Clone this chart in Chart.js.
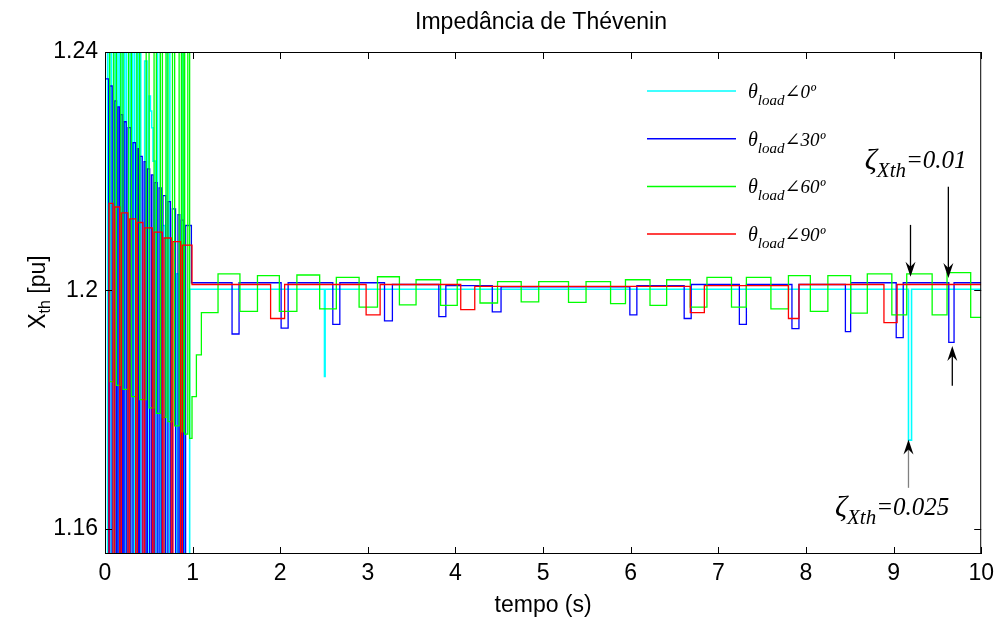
<!DOCTYPE html>
<html>
<head>
<meta charset="utf-8">
<script src="https://cdn.jsdelivr.net/npm/chart.js@4.4.1/dist/chart.umd.min.js"></script>
<style>html,body{margin:0;padding:0;background:#fff}</style>
</head>
<body>
<canvas id="grafico" width="1000" height="621"></canvas>
<script>
// eixos
const tempoTicks = [0, 1, 2, 3, 4, 5, 6, 7, 8, 9, 10];
const xthTicks = [1.16, 1.2, 1.24];
const legendas = ['0º', '30º', '60º', '90º'];

// theta_load 0º (ciano)
const t0 = [0, 0.030, 0.052, 0.075, 0.100, 0.124, 0.148, 0.170, 0.195, 0.220, 0.242, 0.267, 0.290, 0.315, 0.338, 0.362,
    0.385, 0.408, 0.453, 0.480, 0.503, 0.518, 0.533, 0.548, 0.575, 0.600, 0.630, 0.653, 0.685, 0.710, 0.740, 0.815,
    0.840, 0.880, 0.905, 0.966, 2.505, 2.512, 9.170, 9.205, 10];
const x0 = [1.25, 1.15, 1.25, 1.15, 1.25, 1.15, 1.25, 1.15, 1.25, 1.15, 1.25, 1.15, 1.25, 1.15, 1.25, 1.15,
    1.25, 1.15, 1.2385, 1.15, 1.2326, 1.2301, 1.2273, 1.2217, 1.15, 1.25, 1.15, 1.2109, 1.15, 1.25, 1.15, 1.2028,
    1.15, 1.25, 1.15, 1.2002, 1.1856, 1.2002, 1.1749, 1.2002, 1.2002];

// theta_load 30º (azul)
const t30 = [0, 0.042, 0.054, 0.082, 0.111, 0.132, 0.149, 0.167, 0.180, 0.202, 0.218, 0.242, 0.263, 0.295, 0.320, 0.350,
    0.370, 0.384, 0.396, 0.425, 0.446, 0.467, 0.484, 0.510, 0.530, 0.550, 0.567, 0.595, 0.617, 0.642, 0.662, 0.692,
    0.719, 0.747, 0.769, 0.805, 0.833, 0.854, 0.872, 0.898, 0.920, 0.986,
    1.45, 1.53, 2.01, 2.09, 2.60, 2.68, 3.19, 3.28, 3.81, 3.89, 4.42, 4.52, 5.99, 6.07, 6.61, 6.69,
    7.24, 7.32, 7.84, 7.92, 8.45, 8.51, 9.03, 9.11, 9.63, 9.69, 10];
const x30 = [1.2355, 1.15, 1.2343, 1.15, 1.2318, 1.15, 1.2308, 1.15, 1.2295, 1.15, 1.2283, 1.15, 1.2273, 1.15, 1.2248, 1.15,
    1.2238, 1.15, 1.2225, 1.15, 1.2216, 1.15, 1.2204, 1.15, 1.2194, 1.15, 1.2181, 1.15, 1.2172, 1.15, 1.2159, 1.15,
    1.2149, 1.15, 1.2137, 1.15, 1.2127, 1.15, 1.2118, 1.15, 1.2109, 1.2013,
    1.1927, 1.2013, 1.1937, 1.2013, 1.1943, 1.2013, 1.1949, 1.2010, 1.1956, 1.2008, 1.1964, 1.2006, 1.1959, 1.2008, 1.1953, 1.2010,
    1.1943, 1.2010, 1.1936, 1.2010, 1.1931, 1.2013, 1.1921, 1.2013, 1.1913, 1.2013, 1.2013];

// theta_load 60º (verde)
const t60 = [0, 0.054, 0.100, 0.130, 0.180, 0.206, 0.270, 0.301, 0.365, 0.396, 0.470, 0.503, 0.560, 0.586, 0.632, 0.655,
    0.696, 0.719, 0.770, 0.795, 0.846, 0.872, 0.892, 0.909, 0.945, 0.966, 0.993, 1.043, 1.10, 1.29,
    1.54, 1.74, 1.99, 2.19, 2.45, 2.64, 2.90, 3.11, 3.36, 3.55, 3.83, 4.02, 4.28, 4.48, 4.75, 4.95,
    5.29, 5.49, 5.77, 5.94, 6.22, 6.41, 6.68, 6.87, 7.15, 7.32, 7.60, 7.80, 8.05, 8.25, 8.51, 8.70,
    8.98, 9.15, 9.44, 9.61, 9.88, 10];
const x60 = [1.25, 1.1847, 1.25, 1.1841, 1.25, 1.1834, 1.25, 1.1822, 1.25, 1.1817, 1.25, 1.1803, 1.25, 1.1794, 1.25, 1.1787,
    1.25, 1.1780, 1.25, 1.1773, 1.25, 1.1763, 1.25, 1.1759, 1.25, 1.1752, 1.1822, 1.1892, 1.1963, 1.2028,
    1.1965, 1.2025, 1.1965, 1.2026, 1.1969, 1.2022, 1.1972, 1.2023, 1.1976, 1.2018, 1.1975, 1.2018, 1.1979, 1.2015, 1.1981, 1.2015,
    1.1980, 1.2015, 1.1978, 1.2018, 1.1975, 1.2018, 1.1972, 1.2022, 1.1972, 1.2022, 1.1969, 1.2025, 1.1965, 1.2025, 1.1962, 1.2028,
    1.1959, 1.2028, 1.1959, 1.2030, 1.1955, 1.1955];

// theta_load 90º (vermelho)
const t90 = [0, 0.046, 0.092, 0.111, 0.168, 0.187, 0.262, 0.282, 0.350, 0.370, 0.433, 0.453, 0.540, 0.560, 0.654, 0.674,
    0.756, 0.776, 0.863, 0.883, 0.993, 1.89, 2.05, 2.98, 3.14, 4.06, 4.22, 6.68, 6.84, 7.80, 7.92, 8.89, 9.04, 10];
const x90 = [1.15, 1.2146, 1.15, 1.2140, 1.15, 1.2130, 1.15, 1.2120, 1.15, 1.2114, 1.15, 1.2105, 1.15, 1.2098, 1.15, 1.2088,
    1.15, 1.2082, 1.15, 1.2076, 1.2010, 1.1953, 1.2010, 1.1959, 1.2010, 1.1968, 1.2007, 1.1963, 1.2008, 1.1953, 1.2010, 1.1946, 1.2010, 1.2010];

const cores = ['#00ffff', '#0000ff', '#00ff00', '#ff0000'];

// anotações (em unidades dos eixos)
const setas = [
    { t: 9.193, de: 1.2110, ate: 1.2023, cor: '#000' },
    { t: 9.625, de: 1.2174, ate: 1.2021, cor: '#000' },
    { t: 9.670, de: 1.1840, ate: 1.1907, cor: '#000' },
    { t: 9.170, de: 1.1669, ate: 1.1750, cor: '#808080' }
];
const notas = [
    { t: 8.67, v: 1.2203, valor: '=0.01' },
    { t: 8.33, v: 1.1622, valor: '=0.025' }
];

function serie(ts, vs) {
    return ts.map((t, i) => ({ x: t, y: vs[i] }));
}

const sans = '"Liberation Sans", Arial, sans-serif';
const serif = '"Liberation Serif", "DejaVu Serif", serif';

function seta(ctx, x, y0, y1, cor) {
    const d = y1 > y0 ? 1 : -1;
    ctx.strokeStyle = cor;
    ctx.lineWidth = 1.3;
    ctx.beginPath();
    ctx.moveTo(x, y0);
    ctx.lineTo(x, y1 - d * 8);
    ctx.stroke();
    ctx.fillStyle = '#000';
    ctx.beginPath();
    ctx.moveTo(x, y1);
    ctx.lineTo(x - 5, y1 - d * 15);
    ctx.lineTo(x, y1 - d * 10);
    ctx.lineTo(x + 5, y1 - d * 15);
    ctx.closePath();
    ctx.fill();
}

const moldura = {
    id: 'moldura',
    afterDraw(chart) {
        const { ctx, chartArea: a, scales: { x, y } } = chart;
        ctx.save();

        // caixa e marcas internas
        ctx.strokeStyle = '#000';
        ctx.lineWidth = 1;
        ctx.strokeRect(a.left + 0.5, a.top + 0.5, a.right - a.left - 1, a.bottom - a.top - 1);
        ctx.beginPath();
        tempoTicks.forEach(t => {
            const px = Math.round(x.getPixelForValue(t)) + 0.5;
            ctx.moveTo(px, a.bottom); ctx.lineTo(px, a.bottom - 7);
            ctx.moveTo(px, a.top); ctx.lineTo(px, a.top + 7);
        });
        xthTicks.forEach(v => {
            const py = Math.round(y.getPixelForValue(v)) + 0.5;
            ctx.moveTo(a.left, py); ctx.lineTo(a.left + 7, py);
            ctx.moveTo(a.right, py); ctx.lineTo(a.right - 7, py);
        });
        ctx.stroke();

        // título
        ctx.fillStyle = '#000';
        ctx.font = '23px ' + sans;
        ctx.textAlign = 'center';
        ctx.textBaseline = 'middle';
        ctx.fillText('Impedância de Thévenin', 541, 23);

        // rótulo do eixo y: X_th [pu]
        ctx.save();
        ctx.translate(45, 292);
        ctx.rotate(-Math.PI / 2);
        ctx.textAlign = 'left';
        ctx.textBaseline = 'alphabetic';
        ctx.font = '23px ' + sans;
        const wX = ctx.measureText('X').width;
        const wPu = ctx.measureText(' [pu]').width;
        ctx.font = '16px ' + sans;
        const wTh = ctx.measureText('th').width;
        let cx = -(wX + wTh + wPu) / 2;
        ctx.font = '23px ' + sans;
        ctx.fillText('X', cx, 0);
        ctx.font = '16px ' + sans;
        ctx.fillText('th', cx + wX, 5);
        ctx.font = '23px ' + sans;
        ctx.fillText(' [pu]', cx + wX + wTh, 0);
        ctx.restore();

        // legenda
        ctx.textAlign = 'left';
        ctx.textBaseline = 'alphabetic';
        legendas.forEach((lab, i) => {
            const ly = 91 + i * 47.7;
            ctx.strokeStyle = cores[i];
            ctx.lineWidth = 1.5;
            ctx.beginPath();
            ctx.moveTo(647, ly);
            ctx.lineTo(736, ly);
            ctx.stroke();
            let tx = 748;
            ctx.fillStyle = '#000';
            ctx.font = 'italic 20px ' + serif;
            ctx.fillText('θ', tx, ly + 7);
            tx += ctx.measureText('θ').width;
            ctx.font = 'italic 15px ' + serif;
            ctx.fillText('load', tx, ly + 14);
            tx += ctx.measureText('load').width;
            ctx.font = 'italic 19px ' + serif;
            ctx.fillText('∠' + lab, tx, ly + 7);
        });

        // anotações
        notas.forEach(n => {
            let nx = x.getPixelForValue(n.t);
            const ny = y.getPixelForValue(n.v);
            ctx.font = 'italic 30px ' + serif;
            ctx.fillText('ζ', nx, ny);
            nx += ctx.measureText('ζ').width;
            ctx.font = 'italic 21px ' + serif;
            ctx.fillText('Xth', nx, ny + 8);
            nx += ctx.measureText('Xth').width;
            ctx.font = 'italic 25px ' + serif;
            ctx.fillText(n.valor, nx, ny - 1);
        });
        setas.forEach(s => {
            seta(ctx, x.getPixelForValue(s.t), y.getPixelForValue(s.de), y.getPixelForValue(s.ate), s.cor);
        });

        ctx.restore();
    }
};

const dados = [[t0, x0], [t30, x30], [t60, x60], [t90, x90]];

new Chart(document.getElementById('grafico'), {
    type: 'line',
    data: {
        datasets: dados.map((d, i) => ({
            label: legendas[i],
            data: serie(d[0], d[1]),
            borderColor: cores[i],
            borderWidth: i === 0 ? 1.6 : 1.3,
            pointRadius: 0,
            stepped: 'before',
            fill: false,
            clip: 0,
            order: 4 - i
        }))
    },
    options: {
        responsive: false,
        animation: false,
        events: [],
        layout: { padding: { top: 52, right: 15, left: 0, bottom: 0 } },
        plugins: {
            legend: { display: false },
            title: { display: false },
            tooltip: { enabled: false }
        },
        scales: {
            x: {
                type: 'linear',
                min: 0,
                max: 10,
                afterFit: s => { s.height = 67; },
                afterBuildTicks: s => { s.ticks = tempoTicks.map(v => ({ value: v })); },
                grid: { display: false, drawTicks: false },
                border: { display: false },
                ticks: {
                    autoSkip: false,
                    maxRotation: 0,
                    padding: 6,
                    color: '#000',
                    font: { family: sans, size: 23 }
                },
                title: {
                    display: true,
                    text: 'tempo (s)',
                    color: '#000',
                    font: { family: sans, size: 23 },
                    padding: { top: 0, bottom: 2 }
                }
            },
            y: {
                type: 'linear',
                min: 1.1558,
                max: 1.24,
                afterFit: s => { s.width = 105; },
                afterBuildTicks: s => { s.ticks = xthTicks.map(v => ({ value: v })); },
                grid: { display: false, drawTicks: false },
                border: { display: false },
                ticks: {
                    padding: 7,
                    color: '#000',
                    font: { family: sans, size: 23 },
                    callback: v => String(+v.toFixed(2))
                }
            }
        }
    },
    plugins: [moldura]
});
</script>
</body>
</html>
